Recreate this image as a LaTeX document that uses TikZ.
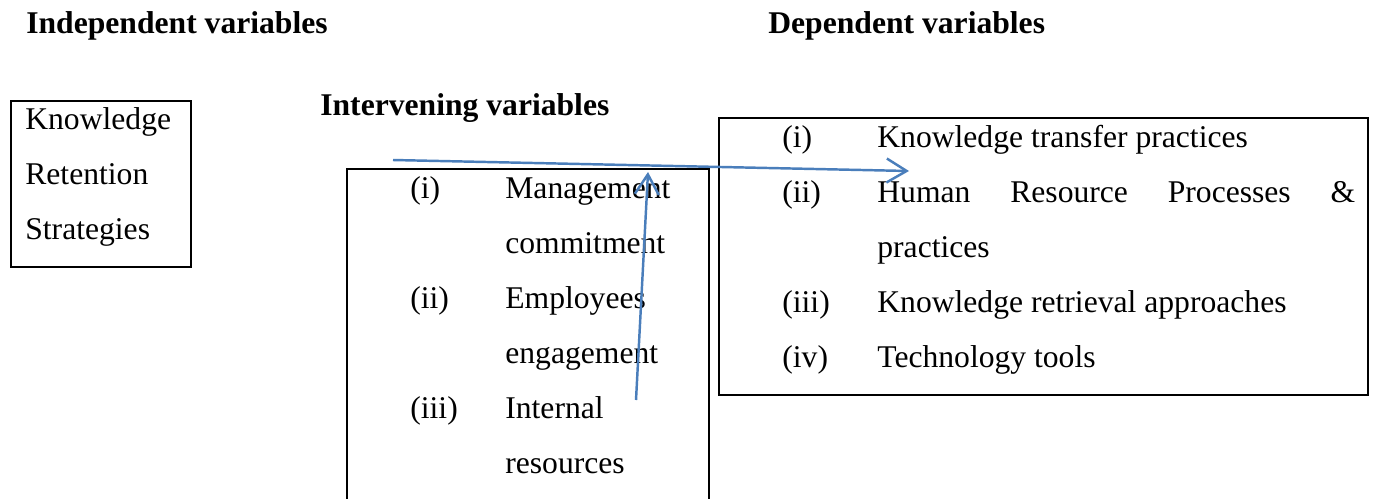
\documentclass[tikz,border=0pt]{standalone}
\usepackage{fontspec}
\setmainfont{Liberation Serif}
\usepackage{tikz}
\usetikzlibrary{arrows.meta}
\definecolor{arrowblue}{RGB}{74,126,187}
\tikzstyle{heading} = [anchor=base west, inner sep=0pt, font=\fontsize{18}{22}\selectfont\bfseries]
\tikzstyle{txt} = [anchor=base west, inner sep=0pt, font=\fontsize{18}{22}\selectfont]
\tikzstyle{varbox} = [rectangle, anchor=north west, draw=black, line width=1.1pt, inner sep=0pt]
\tikzstyle{arrow} = [draw=arrowblue, line width=1.4pt, -{Straight Barb[length=0.4cm,width=0.48cm]}]

\begin{document}
\begin{tikzpicture}[x=0.02cm, y=-0.02cm]
\clip (0,0) rectangle (1375,498);
\node (indep) [heading] at (26,33) {Independent variables};
\node (dep) [heading] at (768,33) {Dependent variables};
\node (interv) [heading] at (320,115) {Intervening variables};
\node (krsbox) [varbox, minimum width=3.6cm, minimum height=3.32cm] at (10,100) {};
\node (intbox) [varbox, minimum width=7.24cm, minimum height=7cm] at (346,168) {};
\node (depbox) [varbox, minimum width=12.98cm, minimum height=5.54cm] at (718,117) {};
\node (knowledge) [txt] at (25,129) {Knowledge};
\node (retention) [txt] at (25,184) {Retention};
\node (strategies) [txt] at (25,239) {Strategies};
\node (intI) [txt] at (410,198) {(i)};
\node (management) [txt] at (505,198) {Management};
\node (commitment) [txt] at (505,253) {commitment};
\node (intII) [txt] at (410,308) {(ii)};
\node (employees) [txt] at (505,308) {Employees};
\node (engagement) [txt] at (505,363) {engagement};
\node (intIII) [txt] at (410,418) {(iii)};
\node (internal) [txt] at (505,418) {Internal};
\node (resources) [txt] at (505,473) {resources};
\node (depI) [txt] at (782,147) {(i)};
\node (transfer) [txt] at (877,147) {Knowledge transfer practices};
\node (depII) [txt] at (782,202) {(ii)};
\node (hrproc) [txt] at (877,202) {\makebox[9.56cm][l]{Human\hfill Resource\hfill Processes\hfill\&}};
\node (hrprac) [txt] at (877,257) {practices};
\node (depIII) [txt] at (782,312) {(iii)};
\node (retrieval) [txt] at (877,312) {Knowledge retrieval approaches};
\node (depIV) [txt] at (782,367) {(iv)};
\node (techtools) [txt] at (877,367) {Technology tools};
\coordinate (krsstart) at (393,160);
\coordinate (depend) at (909,171);
\coordinate (intstart) at (636,400);
\coordinate (intend) at (648,172);
\draw [arrow] (krsstart) -- (depend);
\draw [arrow] (intstart) -- (intend);
\end{tikzpicture}
\end{document}
